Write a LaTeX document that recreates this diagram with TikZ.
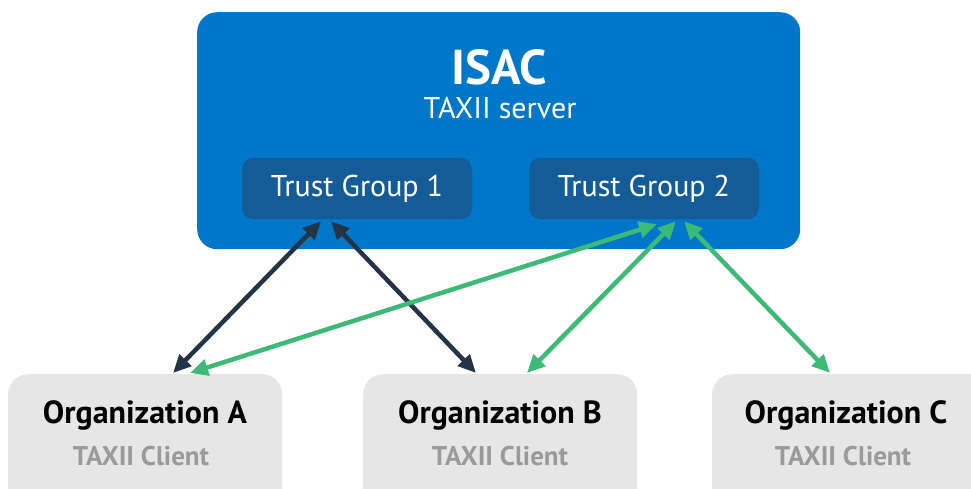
\documentclass[tikz,border=0pt]{standalone}
\usepackage{fontspec}
\setmainfont{PT Sans}
\usetikzlibrary{arrows.meta,calc}
\definecolor{isacblue}{HTML}{0077C8}
\definecolor{tgblue}{HTML}{135C97}
\definecolor{orggrey}{HTML}{E6E6E6}
\definecolor{navy}{HTML}{243447}
\definecolor{grn}{HTML}{3DB978}
\definecolor{subgrey}{HTML}{9A9A9A}
\tikzset{
  box/.style={rounded corners=20pt, inner sep=0pt, anchor=north west},
  tgbox/.style={fill=tgblue, rounded corners=11pt, minimum width=230pt, minimum height=61pt, inner sep=0pt, text=white, font=\fontsize{30}{33}\selectfont},
  orgtitle/.style={font=\fontsize{32}{35}\selectfont\bfseries, text=black, inner sep=0pt},
  orgsub/.style={font=\fontsize{27}{30}\selectfont\bfseries, text=subgrey, inner sep=0pt},
  link/.style={line width=4.5pt, {Triangle[length=18pt,width=16pt]}-{Triangle[length=18pt,width=16pt]}},
}
\begin{document}
\begin{tikzpicture}[x=1pt,y=-1pt]
\useasboundingbox (0,0) rectangle (971,488);
\clip (0,0) rectangle (971,488);
% ISAC server
\node[box, fill=isacblue, minimum width=603pt, minimum height=237pt] (isac) at (197,12) {};
\node[text=white, font=\fontsize{49}{52}\selectfont\bfseries, inner sep=0pt] (isactitle) at (499,67) {ISAC};
\node[text=white, font=\fontsize{30}{33}\selectfont, inner sep=0pt] (isacsub) at (500,108) {TAXII server};
\node[tgbox] (tg1) at (357,188.5) {Trust Group 1};
\node[tgbox] (tg2) at (644,188.5) {Trust Group 2};
% Organizations
\node[box, fill=orggrey, minimum width=274pt, minimum height=150pt] (orga) at (8,374) {};
\node[box, fill=orggrey, minimum width=274pt, minimum height=150pt] (orgb) at (363,374) {};
\node[box, fill=orggrey, minimum width=290pt, minimum height=150pt] (orgc) at (712,374) {};
\node[orgtitle] (orgaT) at (145,415) {Organization A};
\node[orgsub] (orgaS) at (141,456) {TAXII Client};
\node[orgtitle] (orgbT) at (500,415) {Organization B};
\node[orgsub] (orgbS) at (500,456) {TAXII Client};
\node[orgtitle] (orgcT) at (846,415) {Organization C};
\node[orgsub] (orgcS) at (843,456) {TAXII Client};
% connectors
\coordinate (t1a) at ($(tg1.south)+(-36,2)$);
\coordinate (t1b) at ($(tg1.south)+(-26,2)$);
\coordinate (t2a) at ($(tg2.south)+(13,5)$);
\coordinate (t2b) at ($(tg2.south)+(32,2)$);
\coordinate (t2c) at ($(tg2.south)+(40,2)$);
\coordinate (ea) at ($(orga.north west)+(165,-1)$);
\coordinate (eag) at ($(orga.north west)+(182,-1)$);
\coordinate (eb) at ($(orgb.north west)+(113,-1)$);
\coordinate (ebg) at ($(orgb.north west)+(164,-1)$);
\coordinate (ec) at ($(orgc.north west)+(118,-1)$);
\draw[link, navy] (t1a) -- (ea);
\draw[link, navy] (t1b) -- (eb);
\draw[link, grn] (t2a) -- (eag);
\draw[link, grn] (t2b) -- (ebg);
\draw[link, grn] (t2c) -- (ec);
\end{tikzpicture}
\end{document}
